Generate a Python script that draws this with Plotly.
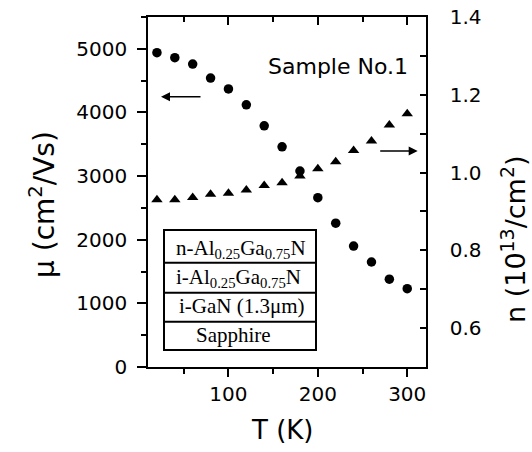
import plotly.graph_objects as go

# ---- data ----
temperature_K = [20, 40, 60, 80, 100, 120, 140, 160, 180, 200, 220, 240, 260, 280, 300]
mobility_cm2Vs = [4940, 4860, 4760, 4540, 4370, 4120, 3790, 3460, 3080, 2660,
                  2260, 1900, 1650, 1380, 1230]
density_1e13 = [0.930, 0.930, 0.936, 0.944, 0.947, 0.955, 0.967, 0.974, 0.991, 1.010,
                1.028, 1.057, 1.081, 1.122, 1.151]
layers = ["n-Al<sub>0.25</sub>Ga<sub>0.75</sub>N",
          "i-Al<sub>0.25</sub>Ga<sub>0.75</sub>N",
          "i-GaN (1.3μm)",
          "Sapphire"]
x_ticks = [100, 200, 300]
y_ticks = [0, 1000, 2000, 3000, 4000, 5000]
y2_ticks = [0.6, 0.8, 1.0, 1.2, 1.4]

W, H = 532, 452
ML, MR, MT, MB = 148, 106, 17, 85
PW, PH = W - ML - MR, H - MT - MB


def px(x):
    return (x - ML) / PW


def py(y):
    return (H - MB - y) / PH


SANS = "DejaVu Sans"
SERIF = "Liberation Serif"

fig = go.Figure()
fig.add_trace(go.Scatter(x=temperature_K, y=mobility_cm2Vs, mode="markers",
                         marker=dict(symbol="circle", size=9.5, color="black"),
                         xaxis="x", yaxis="y", showlegend=False))
fig.add_trace(go.Scatter(x=temperature_K, y=density_1e13, mode="markers",
                         marker=dict(symbol="triangle-up", size=10, color="black"),
                         xaxis="x2", yaxis="y2", showlegend=False))

axis_common = dict(showline=True, linecolor="black", linewidth=1.5, showgrid=False,
                   zeroline=False, tickcolor="black", tickwidth=1.5, automargin=False)
XR = [10, 321]
fig.update_layout(
    width=W, height=H, margin=dict(l=ML, r=MR, t=MT, b=MB),
    plot_bgcolor="white", paper_bgcolor="white",
    font=dict(family=SANS, size=20, color="black"),
    xaxis=dict(range=XR, tickvals=x_ticks, ticks="outside", ticklen=8,
               minor=dict(dtick=50, tick0=0, ticks="outside", ticklen=5,
                          tickcolor="black", tickwidth=1.5),
               tickfont=dict(size=20), ticklabelstandoff=0, **axis_common),
    xaxis2=dict(range=XR, overlaying="x", side="top", anchor="y2", ticks="inside",
                tickvals=x_ticks, ticklen=8, showticklabels=False,
                minor=dict(dtick=50, tick0=0, ticks="inside", ticklen=5,
                           tickcolor="black", tickwidth=1.5),
                **axis_common),
    yaxis=dict(range=[0, 5500], tickvals=y_ticks, ticks="outside", ticklen=9,
               minor=dict(dtick=500, tick0=0, ticks="outside", ticklen=5,
                          tickcolor="black", tickwidth=1.5),
               tickfont=dict(size=20), ticklabelstandoff=6, **axis_common),
    yaxis2=dict(range=[0.5, 1.4], overlaying="y", side="right", anchor="x2",
                tickvals=y2_ticks, tickformat=".1f", ticks="inside", ticklen=6,
                minor=dict(dtick=0.1, tick0=0.5, ticks="inside", ticklen=6,
                           tickcolor="black", tickwidth=1.5),
                tickfont=dict(size=20), ticklabelstandoff=18, **axis_common),
)


def note(text, x, y, size, family=SANS, angle=0):
    fig.add_annotation(text=text, xref="paper", yref="paper", x=px(x), y=py(y),
                       xanchor="center", yanchor="middle", textangle=angle,
                       showarrow=False, font=dict(family=family, size=size))


# axis titles
note("T (K)", 282, 430, 26)
note("μ (cm<sup>2</sup>/Vs)", 42, 205, 28, angle=-90)
note("n (10<sup>13</sup>/cm<sup>2</sup>)", 513, 240, 27, angle=-90)

# sample label
note("Sample No.1", 338, 66, 22)

# arrows
fig.add_annotation(x=px(161), y=py(96.7), ax=41, ay=0,
                   xref="paper", yref="paper", axref="pixel", ayref="pixel",
                   text="", showarrow=True, arrowhead=2, arrowsize=1.2,
                   arrowwidth=1.5, arrowcolor="black")
fig.add_annotation(x=px(417.7), y=py(151), ax=-39, ay=0,
                   xref="paper", yref="paper", axref="pixel", ayref="pixel",
                   text="", showarrow=True, arrowhead=2, arrowsize=1.2,
                   arrowwidth=1.5, arrowcolor="black")

# layer stack inset
row_edges = [230, 262.7, 292.7, 321.7, 350]
fig.add_shape(type="rect", xref="paper", yref="paper", x0=px(164), x1=px(316),
              y0=py(350), y1=py(230), line=dict(color="black", width=2),
              fillcolor="white", layer="above")
for e in row_edges[1:-1]:
    fig.add_shape(type="line", xref="paper", yref="paper", x0=px(164), x1=px(316),
                  y0=py(e), y1=py(e), line=dict(color="black", width=2))
row_cx = [241, 238, 241.5, 233]
row_cy = [249, 278, 306, 335]
for name, cx, cy in zip(layers, row_cx, row_cy):
    note(name, cx, cy, 21, family=SERIF)

fig.write_html("out.html", config={"displayModeBar": False},
               post_script="document.body.style.margin='0';document.body.style.padding='0';")
